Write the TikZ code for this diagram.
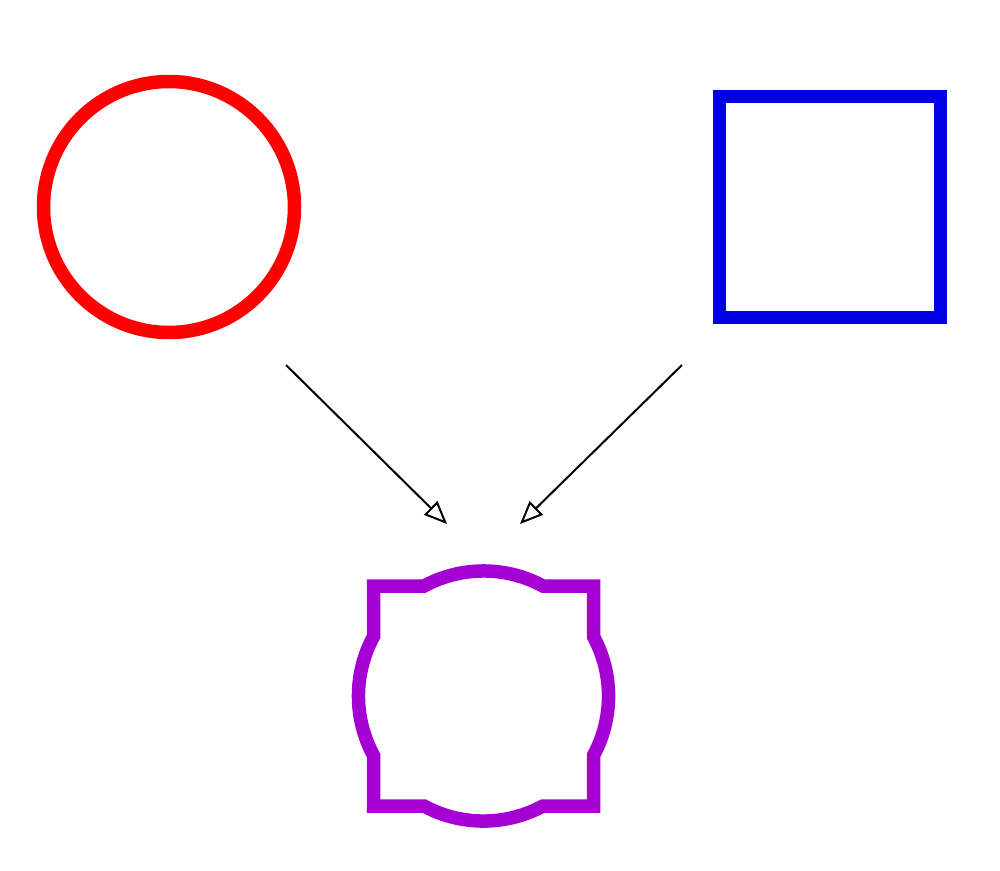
\documentclass[tikz,border=0pt]{standalone}
\usetikzlibrary{arrows.meta}
\definecolor{myred}{RGB}{255,0,0}
\definecolor{myblue}{RGB}{0,0,228}
\definecolor{mypurple}{RGB}{164,0,212}
\begin{document}
\begin{tikzpicture}[x=1pt,y=-1pt,
  thick shape/.style={line width=13.5pt, inner sep=0pt, outer sep=0pt},
  conn/.style={line width=2pt, -{Triangle[open, length=23pt, width=19pt, line width=2pt]}}]
\useasboundingbox (0,0) rectangle (1000,870);
\node[thick shape, circle, draw=myred, minimum size=251pt] (redcircle) at (169,207) {};
\node[thick shape, rectangle, draw=myblue, minimum size=221pt] (bluesquare) at (830,207) {};
\coordinate (union) at (483.5,696);
\begin{scope}[shift={(union)}]
\draw[line width=13.5pt, draw=mypurple, line join=miter]
  (-110,-110) -- (-59.4,-110)
  arc[start angle=-118.4, end angle=-61.6, radius=125]
  -- (110,-110) -- (110,-59.4)
  arc[start angle=-28.4, end angle=28.4, radius=125]
  -- (110,110) -- (59.4,110)
  arc[start angle=61.6, end angle=118.4, radius=125]
  -- (-110,110) -- (-110,59.4)
  arc[start angle=151.6, end angle=208.4, radius=125]
  -- cycle;
\end{scope}
\coordinate (a1s) at (286,365);
\coordinate (a1e) at (447,524);
\coordinate (a2s) at (682,365);
\coordinate (a2e) at (520,524);
\draw[conn] (a1s) -- (a1e);
\draw[conn] (a2s) -- (a2e);
\end{tikzpicture}
\end{document}
